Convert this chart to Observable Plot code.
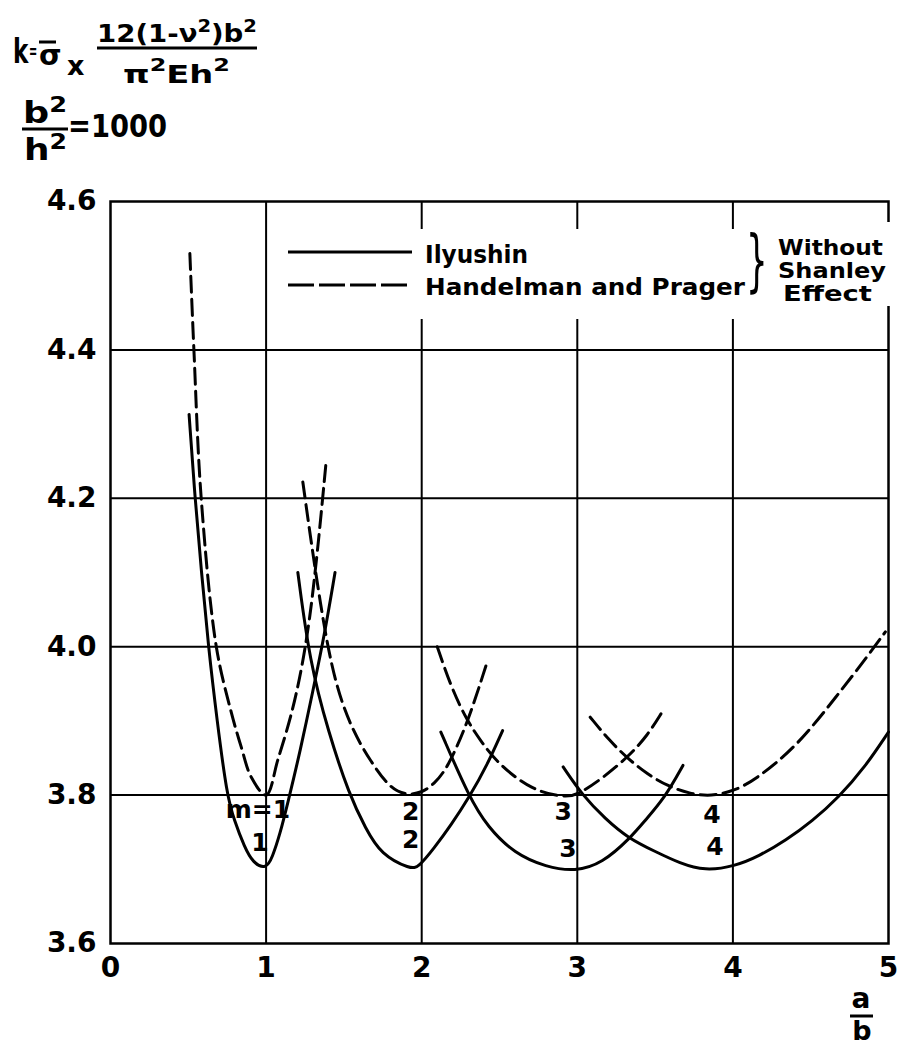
<!DOCTYPE html>
<html>
<head>
<meta charset="utf-8">
<script src="https://cdn.jsdelivr.net/npm/d3@7"></script>
<script src="https://cdn.jsdelivr.net/npm/@observablehq/plot@0.6"></script>
<style>
  body { margin: 0; background: #fff; }
  #page { position: relative; width: 902px; height: 1046px; overflow: hidden; background: #fff; }
  #header svg, #overlay { display: block; }
  #overlay { position: absolute; left: 0; top: 0; pointer-events: none; }
  text { font-family: "DejaVu Sans", sans-serif; fill: #000; }
</style>
</head>
<body>
<div id="page">
  <div id="header">
    <svg width="902" height="175" font-weight="bold">
      <!-- buckling coefficient definition -->
      <text transform="translate(13,63) scale(0.7,1)" font-size="33">k</text>
      <text transform="translate(29,58) scale(0.7,1.4)" font-size="14">=</text>
      <text x="39" y="65" font-size="29">σ</text>
      <line x1="39" x2="56" y1="42" y2="42" stroke="#000" stroke-width="3"></line>
      <text x="67" y="75" font-size="27">x</text>
      <text x="97" y="42" font-size="24" textLength="160" lengthAdjust="spacingAndGlyphs">12(1-ν<tspan dy="-10" font-size="17">2</tspan><tspan dy="10">)b</tspan><tspan dy="-10" font-size="17">2</tspan></text>
      <line x1="97" x2="257" y1="48" y2="48" stroke="#000" stroke-width="3"></line>
      <text x="123" y="83" font-size="24" textLength="107" lengthAdjust="spacingAndGlyphs">π<tspan dy="-12" font-size="17">2</tspan><tspan dy="12">Eh</tspan><tspan dy="-12" font-size="17">2</tspan></text>
      <!-- plate slenderness -->
      <text x="23" y="123" font-size="30" textLength="44" lengthAdjust="spacingAndGlyphs">b<tspan dy="-11" font-size="21">2</tspan></text>
      <line x1="22" x2="68" y1="129" y2="129" stroke="#000" stroke-width="3"></line>
      <text x="24" y="160" font-size="30" textLength="43" lengthAdjust="spacingAndGlyphs">h<tspan dy="-11" font-size="21">2</tspan></text>
      <text x="68" y="137" font-size="32" textLength="99" lengthAdjust="spacingAndGlyphs">=1000</text>
    </svg>
  </div>
  <div id="chart"></div>
  <svg id="overlay" width="902" height="1046" font-weight="bold">
    <!-- legend: white panels keep grid lines out of the key -->
    <rect x="416" y="229" width="330" height="90" fill="#fff"></rect>
    <rect x="746" y="222" width="150" height="84" fill="#fff"></rect>
    <line x1="288" x2="412" y1="252" y2="252" stroke="#000" stroke-width="3"></line>
    <line x1="288" x2="412" y1="285" y2="285" stroke="#000" stroke-width="3" stroke-dasharray="26,5"></line>
    <text x="425" y="263" font-size="24" textLength="103" lengthAdjust="spacingAndGlyphs">Ilyushin</text>
    <text x="425" y="295" font-size="23" textLength="320" lengthAdjust="spacingAndGlyphs">Handelman and Prager</text>
    <text transform="translate(746,284) scale(1,2)" font-size="34" font-weight="normal">}</text>
    <text x="778" y="255" font-size="21" textLength="105" lengthAdjust="spacingAndGlyphs">Without</text>
    <text x="778" y="278" font-size="21" textLength="108" lengthAdjust="spacingAndGlyphs">Shanley</text>
    <text x="783" y="301" font-size="21" textLength="89" lengthAdjust="spacingAndGlyphs">Effect</text>
    <!-- x axis title a/b -->
    <text x="861" y="1008" font-size="28" text-anchor="middle">a</text>
    <line x1="850" x2="873" y1="1016" y2="1016" stroke="#000" stroke-width="3"></line>
    <text x="862" y="1040" font-size="27" text-anchor="middle">b</text>
  </svg>
</div>
<script>
// Axis ticks
const xTicks = [0, 1, 2, 3, 4, 5];
const yTicks = [3.6, 3.8, 4.0, 4.2, 4.4, 4.6];

// Ilyushin curves, [a/b, k] for each number of half-waves m
const ilyushinM1 = [[0.505,4.313],[0.543,4.20],[0.585,4.10],[0.629,4.00],[0.685,3.90],[0.748,3.80],[0.795,3.766],[0.861,3.73],[0.914,3.709],[1.0,3.70],[1.04,3.716],[1.09,3.748],[1.14,3.79],[1.22,3.86],[1.30,3.94],[1.37,4.01],[1.443,4.10]];
const ilyushinM2 = [[1.204,4.10],[1.28,3.98],[1.40,3.885],[1.535,3.80],[1.64,3.755],[1.737,3.72],[1.93,3.70],[1.98,3.703],[2.078,3.728],[2.19,3.76],[2.305,3.797],[2.42,3.84],[2.52,3.887]];
const ilyushinM3 = [[2.123,3.885],[2.305,3.797],[2.424,3.757],[2.597,3.721],[2.80,3.703],[2.987,3.697],[3.16,3.708],[3.34,3.742],[3.436,3.766],[3.564,3.797],[3.679,3.84]];
const ilyushinM4 = [[2.909,3.838],[3.032,3.80],[3.18,3.768],[3.327,3.742],[3.50,3.724],[3.66,3.708],[3.82,3.698],[4.01,3.704],[4.17,3.718],[4.34,3.739],[4.51,3.765],[4.68,3.797],[4.85,3.838],[5.0,3.885]];

// Handelman and Prager curves
const handelmanM1 = [[0.51,4.53],[0.536,4.40],[0.583,4.20],[0.68,4.00],[0.773,3.914],[0.84,3.865],[0.905,3.824],[1.0,3.80],[1.076,3.848],[1.165,3.912],[1.228,3.972],[1.28,4.04],[1.33,4.13],[1.386,4.25]];
const handelmanM2 = [[1.236,4.222],[1.31,4.11],[1.42,3.964],[1.546,3.89],[1.673,3.845],[1.80,3.808],[1.905,3.80],[2.0,3.803],[2.08,3.815],[2.165,3.836],[2.295,3.897],[2.414,3.975]];
const handelmanM3 = [[2.10,4.00],[2.19,3.945],[2.292,3.90],[2.383,3.872],[2.487,3.843],[2.708,3.806],[2.92,3.797],[3.0,3.80],[3.158,3.822],[3.329,3.852],[3.45,3.88],[3.545,3.912]];
const handelmanM4 = [[3.083,3.905],[3.20,3.875],[3.32,3.85],[3.45,3.828],[3.583,3.812],[3.72,3.802],[3.86,3.798],[4.01,3.806],[4.14,3.82],[4.41,3.865],[4.68,3.937],[4.84,3.98],[4.98,4.02]];

// Half-wave labels beside the minima
const modeLabelText = ["m=1", "1", "2", "2", "3", "3", "4", "4"];
const modeLabelAB   = [0.947, 0.96, 1.93, 1.93, 2.91, 2.94, 3.865, 3.885];
const modeLabelK    = [3.78, 3.735, 3.777, 3.739, 3.777, 3.728, 3.773, 3.73];

const toRows = (theory, m, pts) => pts.map(([ab, k]) => ({theory, m, ab, k}));
const ilyushinRows = [
  ...toRows("Ilyushin", 1, ilyushinM1), ...toRows("Ilyushin", 2, ilyushinM2),
  ...toRows("Ilyushin", 3, ilyushinM3), ...toRows("Ilyushin", 4, ilyushinM4)
];
const handelmanRows = [
  ...toRows("Handelman and Prager", 1, handelmanM1), ...toRows("Handelman and Prager", 2, handelmanM2),
  ...toRows("Handelman and Prager", 3, handelmanM3), ...toRows("Handelman and Prager", 4, handelmanM4)
];
const labels = modeLabelText.map((text, i) => ({text, ab: modeLabelAB[i], k: modeLabelK[i]}));

const dashed = {x: "ab", y: "k", z: "m", stroke: "#000", strokeWidth: 3, strokeDasharray: "16,7"};

const chart = Plot.plot({
  width: 902,
  height: 871,
  marginTop: 26,
  marginBottom: 103,
  marginLeft: 110,
  marginRight: 14,
  style: {fontFamily: "DejaVu Sans, sans-serif", fontSize: "26px", color: "#000", background: "#fff", overflow: "visible"},
  x: {domain: [0, 5]},
  y: {domain: [3.6, 4.6]},
  marks: [
    Plot.ruleX(xTicks.slice(1, -1), {stroke: "#000", strokeWidth: 2}),
    Plot.ruleY(yTicks.slice(1, -1), {stroke: "#000", strokeWidth: 2}),
    Plot.frame({stroke: "#000", strokeWidth: 2.5}),
    Plot.axisX({ticks: xTicks, tickSize: 0, tickPadding: 14, fontSize: 28, fontWeight: "bold", label: null, tickFormat: d => String(d)}),
    Plot.axisY({ticks: yTicks, tickSize: 0, tickPadding: 14, fontSize: 28, fontWeight: "bold", label: null, tickFormat: d => d.toFixed(1)}),
    Plot.line(ilyushinRows, {x: "ab", y: "k", z: "m", curve: "basis", stroke: "#000", strokeWidth: 3}),
    // the m = 1 dashed branches meet in a sharp point at a/b = 1
    Plot.line(handelmanRows.filter(d => d.m === 1), {...dashed, curve: "catmull-rom"}),
    Plot.line(handelmanRows.filter(d => d.m > 1), {...dashed, curve: "basis"}),
    Plot.text(labels, {x: "ab", y: "k", text: "text", fontSize: 25, fontWeight: "bold"})
  ]
});
document.getElementById("chart").appendChild(chart);
</script>
</body>
</html>
